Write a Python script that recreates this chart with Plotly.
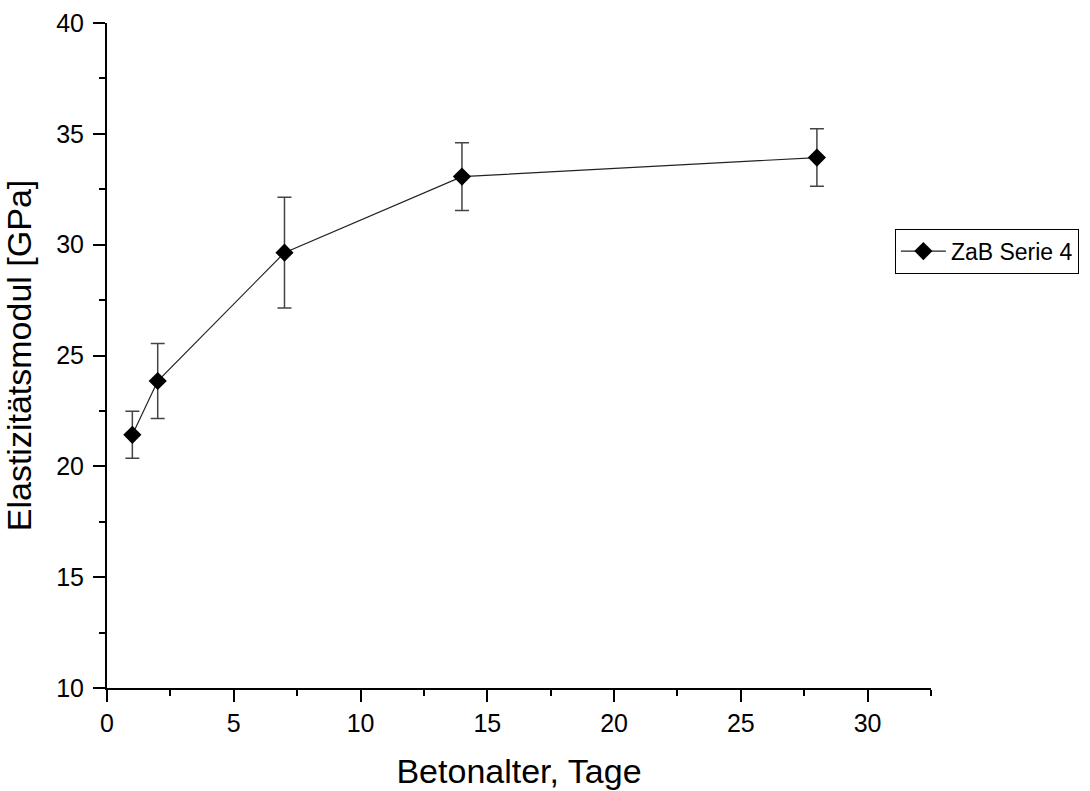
import plotly.graph_objects as go

# Concrete age in days and measured elastic modulus (GPa) with scatter
alter_tage = [1, 2, 7, 14, 28]
e_modul = [21.42, 23.85, 29.64, 33.07, 33.93]
e_fehler = [1.06, 1.69, 2.50, 1.53, 1.30]

fig = go.Figure()
fig.add_trace(go.Scatter(
    x=alter_tage,
    y=e_modul,
    mode="lines+markers",
    name="ZaB Serie 4",
    line=dict(color="#222222", width=1.2),
    marker=dict(symbol="diamond", size=14, color="black"),
    error_y=dict(type="data", array=e_fehler, visible=True,
                 color="#444444", thickness=1.5, width=7),
))

font = "Liberation Sans, Arial, sans-serif"
axis_common = dict(
    showline=True, linecolor="black", linewidth=2,
    ticks="outside", ticklen=12, tickwidth=2, tickcolor="black",
    showgrid=False, zeroline=False, mirror=False, automargin=False,
    tickfont=dict(family=font, size=25, color="black"),
)
minor_ticks = dict(ticks="outside", ticklen=6, tickwidth=2, tickcolor="black",
                   dtick=2.5, showgrid=False)

fig.update_xaxes(
    range=[0, 32.5], tick0=0, dtick=5, minor=minor_ticks,
    title=dict(text="Betonalter, Tage", font=dict(family=font, size=34, color="black"), standoff=23),
    **axis_common,
)
fig.update_yaxes(
    range=[10, 40], tick0=10, dtick=5, minor=minor_ticks, ticklabelstandoff=4,
    title=dict(text="Elastizitätsmodul [GPa]", font=dict(family=font, size=34, color="black"), standoff=14),
    **axis_common,
)

fig.update_layout(
    width=1090, height=791,
    margin=dict(l=107, r=158, t=23, b=103),
    paper_bgcolor="white", plot_bgcolor="white",
    showlegend=True,
    legend=dict(
        x=0.955, y=0.657, xanchor="left", yanchor="middle",
        bordercolor="black", borderwidth=1, bgcolor="white",
        font=dict(family=font, size=23, color="black"),
        itemwidth=45,
    ),
)

fig.write_html("out.html")
